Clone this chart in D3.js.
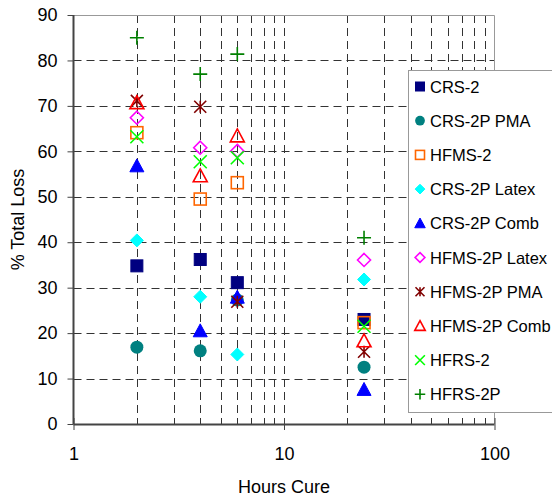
<!DOCTYPE html>
<html>
<head>
<meta charset="utf-8">
<script src="https://cdn.jsdelivr.net/npm/d3@7"></script>
<style>
  body { margin: 0; background: #fff; }
  svg { display: block; font-family: "Liberation Sans", Arial, sans-serif; }
</style>
</head>
<body>
<svg id="chart" width="552" height="499"></svg>
<script>
const hours = [2, 4, 6, 24];
const seriesNames = ['CRS-2', 'CRS-2P PMA', 'HFMS-2', 'CRS-2P Latex', 'CRS-2P Comb',
  'HFMS-2P Latex', 'HFMS-2P PMA', 'HFMS-2P Comb', 'HFRS-2', 'HFRS-2P'];
const crs2 = [34.8, 36.2, 31.1, 23.0];
const crs2pPma = [16.9, 16.1, 27.3, 12.5];
const hfms2 = [64.1, 49.5, 53.1, 22.3];
const crs2pLatex = [40.4, 28.0, 15.3, 31.8];
const crs2pComb = [56.8, 20.5, 27.9, 7.6];
const hfms2pLatex = [67.4, 60.8, 60.1, 36.1];
const hfms2pPma = [71.1, 69.8, 26.9, 15.9];
const hfms2pComb = [70.7, 54.6, 63.4, 18.3];
const hfrs2 = [63.2, 57.7, 58.6, 21.5];
const hfrs2p = [85.0, 77.0, 81.4, 41.0];
const xTicks = [1, 10, 100];
const yTicks = [0, 10, 20, 30, 40, 50, 60, 70, 80, 90];

const seriesValues = [crs2, crs2pPma, hfms2, crs2pLatex, crs2pComb,
  hfms2pLatex, hfms2pPma, hfms2pComb, hfrs2, hfrs2p];
const styles = [
  { shape: 'square', color: '#000080', fill: true },
  { shape: 'circle', color: '#008080', fill: true },
  { shape: 'square', color: '#FF6600', fill: false },
  { shape: 'diamond', color: '#00FFFF', fill: true },
  { shape: 'triangle', color: '#0000FF', fill: true },
  { shape: 'diamond', color: '#FF00FF', fill: false },
  { shape: 'star', color: '#800000' },
  { shape: 'triangle', color: '#FF0000', fill: false },
  { shape: 'x', color: '#00FF00' },
  { shape: 'plus', color: '#008000' }
];

const svg = d3.select('#chart');
const plotL = 73.5, plotR = 494.5, plotT = 15, plotB = 424;
const font = 'Liberation Sans, Arial, sans-serif';

const x = d3.scaleLog().domain([1, 100]).range([plotL, plotR]);
const y = d3.scaleLinear().domain([0, 90]).range([plotB, plotT]);

// dashed gridlines (minor log steps + every 10 %)
const minor = [];
[1, 10].forEach(d => { for (let k = 2; k <= 9; k++) minor.push(d * k); });
minor.push(10);
svg.append('g').selectAll('line').data(minor).join('line')
  .attr('x1', d => Math.round(x(d)) + 0.5).attr('x2', d => Math.round(x(d)) + 0.5)
  .attr('y1', plotT).attr('y2', plotB)
  .attr('stroke', '#333').attr('stroke-width', 1).attr('stroke-dasharray', '8,5');
svg.append('g').selectAll('line').data(yTicks.filter(d => d > 0 && d < 90)).join('line')
  .attr('x1', plotL).attr('x2', plotR)
  .attr('y1', d => Math.round(y(d)) + 0.5).attr('y2', d => Math.round(y(d)) + 0.5)
  .attr('stroke', '#333').attr('stroke-width', 1).attr('stroke-dasharray', '8,5');

// plot border (top / right)
svg.append('path')
  .attr('d', `M${plotL},${plotT + 0.5}H${plotR}V${plotB}`)
  .attr('fill', 'none').attr('stroke', '#999').attr('stroke-width', 1);

// axes
const xAxis = d3.axisBottom(x).tickValues(xTicks).tickFormat(d3.format('d')).tickSize(6).tickPadding(17);
const gx = svg.append('g').attr('transform', `translate(0,${plotB})`).call(xAxis);
gx.select('.domain').attr('d', `M${plotL},0.5H${plotR}`).attr('stroke', '#444').attr('stroke-width', 2);
gx.selectAll('.tick line').attr('stroke', '#444').attr('y1', -6).attr('y2', 6);
gx.selectAll('text').attr('font-size', 18).attr('fill', '#000').attr('font-family', font);

const yAxis = d3.axisLeft(y).tickValues(yTicks).tickSize(6).tickPadding(10);
const gy = svg.append('g').attr('transform', `translate(${plotL},0)`).call(yAxis);
gy.select('.domain').attr('d', `M0,${plotT}V${plotB}`).attr('stroke', '#444').attr('stroke-width', 2);
gy.selectAll('.tick line').attr('stroke', '#444');
gy.selectAll('text').attr('font-size', 18).attr('fill', '#000').attr('font-family', font);

svg.append('text').attr('x', (plotL + plotR) / 2).attr('y', 493)
  .attr('text-anchor', 'middle').attr('font-size', 18).text('Hours Cure');
svg.append('text').attr('transform', `translate(24,${(plotT + plotB) / 2}) rotate(-90)`)
  .attr('text-anchor', 'middle').attr('font-size', 18).text('% Total Loss');

function drawMarker(g, st, s) {
  const h = s / 2;
  if (st.shape === 'square') {
    g.append('rect').attr('x', -h).attr('y', -h).attr('width', s).attr('height', s)
      .attr('fill', st.fill ? st.color : 'none').attr('stroke', st.color).attr('stroke-width', st.fill ? 1 : 1.6);
  } else if (st.shape === 'circle') {
    g.append('circle').attr('r', h).attr('fill', st.color);
  } else if (st.shape === 'diamond') {
    g.append('path').attr('d', `M0,${-h}L${h},0L0,${h}L${-h},0Z`)
      .attr('fill', st.fill ? st.color : 'none').attr('stroke', st.color).attr('stroke-width', st.fill ? 1 : 1.6);
  } else if (st.shape === 'triangle') {
    g.append('path').attr('d', `M0,${-h}L${h},${h * 0.85}L${-h},${h * 0.85}Z`)
      .attr('fill', st.fill ? st.color : 'none').attr('stroke', st.color).attr('stroke-width', st.fill ? 1 : 1.6);
  } else if (st.shape === 'star') {
    g.append('path').attr('d', `M${-h},${-h}L${h},${h}M${-h},${h}L${h},${-h}M0,${-h}V${h}`)
      .attr('stroke', st.color).attr('stroke-width', 1.6);
  } else if (st.shape === 'x') {
    g.append('path').attr('d', `M${-h},${-h}L${h},${h}M${-h},${h}L${h},${-h}`)
      .attr('stroke', st.color).attr('stroke-width', 1.6);
  } else if (st.shape === 'plus') {
    g.append('path').attr('d', `M${-h},0H${h}M0,${-h}V${h}`)
      .attr('stroke', st.color).attr('stroke-width', 1.6);
  }
}

const sizes = { square: 12, circle: 13, diamond: 13, triangle: 14, star: 12, x: 13, plus: 14 };
seriesValues.forEach((vals, i) => {
  vals.forEach((v, j) => {
    const g = svg.append('g').attr('transform', `translate(${x(hours[j])},${y(v)})`);
    drawMarker(g, styles[i], sizes[styles[i].shape]);
  });
});

// legend
const lg = svg.append('g');
lg.append('rect').attr('x', 408.5).attr('y', 70.5).attr('width', 160).attr('height', 342)
  .attr('fill', '#fff').attr('stroke', '#999');
seriesNames.forEach((name, i) => {
  const cy = 86.5 + i * 34.2;
  const g = lg.append('g').attr('transform', `translate(420,${cy})`);
  drawMarker(g, styles[i], sizes[styles[i].shape] * 0.75);
  lg.append('text').attr('x', 430).attr('y', cy + 6).attr('font-size', 16.5).attr('font-family', font).text(name);
});
</script>
</body>
</html>
